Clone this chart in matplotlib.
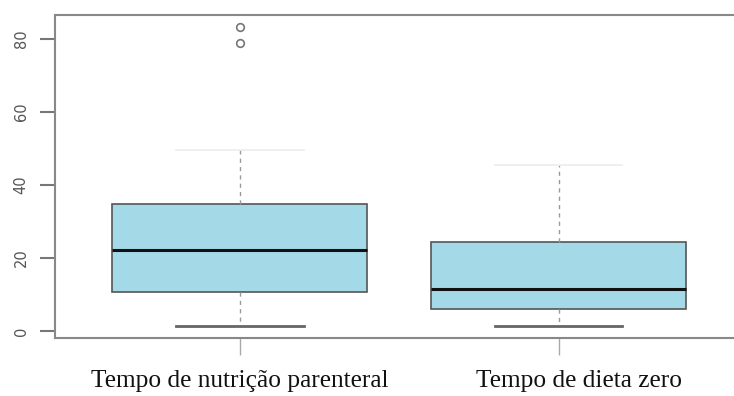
import matplotlib
matplotlib.use("Agg")
import matplotlib.pyplot as plt
import matplotlib.transforms as mtransforms

categories = ["Tempo de nutrição parenteral", "Tempo de dieta zero"]
q1 = [10.7, 6.0]
median = [22.2, 11.5]
q3 = [34.8, 24.4]
whisker_low = [1.4, 1.4]
whisker_high = [49.6, 45.5]
outliers = [[79.0, 83.3], []]
yticks = [0, 20, 40, 60, 80]

W, H = 734, 396
fig = plt.figure(figsize=(W / 100, H / 100), dpi=100)
left, right, top, bottom = 55, 743.6, 15, 338
ax = fig.add_axes([left / W, (H - bottom) / H, (right - left) / W, (bottom - top) / H])

stats = []
for i in range(len(categories)):
    stats.append(dict(label=categories[i], q1=q1[i], med=median[i], q3=q3[i],
                      whislo=whisker_low[i], whishi=whisker_high[i], fliers=outliers[i]))

parts = ax.bxp(stats, positions=[1, 2], widths=0.8, patch_artist=True, showfliers=True,
               boxprops=dict(facecolor="#a4d9e7", edgecolor="#555555", linewidth=1.2),
               medianprops=dict(color="#111111", linewidth=2.2),
               whiskerprops=dict(color="#999999", linewidth=1.0, linestyle=(0, (3, 3))),
               capprops=dict(color="#666666", linewidth=2.0),
               capwidths=0.4,
               flierprops=dict(marker="o", markersize=5.5, markerfacecolor="none",
                               markeredgecolor="#777777", markeredgewidth=1.2))

# upper caps are barely visible in the reference
for k, cap in enumerate(parts["caps"]):
    if k % 2 == 1:
        cap.set_color("#ececec")
        cap.set_linewidth(1.2)

ax.set_xlim(0.42, 2.58)
ax.set_ylim(-1.92, 86.6)
ax.set_yticks(yticks)
ax.set_yticklabels([str(v) for v in yticks], rotation=90, va="center",
                   fontsize=10.5, color="#555555", family="DejaVu Sans")
ax.set_xticks([1, 2])
ax.set_xticklabels(categories, fontsize=18.3, family="Liberation Serif", color="#111111")
ax.tick_params(axis="y", length=11, width=1.5, color="#777777", pad=8)
ax.tick_params(axis="x", length=12, width=1.0, color="#aaaaaa", pad=11)
for s in ax.spines.values():
    s.set_color("#888888")
    s.set_linewidth(1.5)

# second label sits a little right of its tick in the reference
lbl = ax.get_xticklabels()[1]
lbl.set_transform(lbl.get_transform() + mtransforms.ScaledTranslation(20 / 100, 0, fig.dpi_scale_trans))

fig.savefig("out.png", dpi=100)
